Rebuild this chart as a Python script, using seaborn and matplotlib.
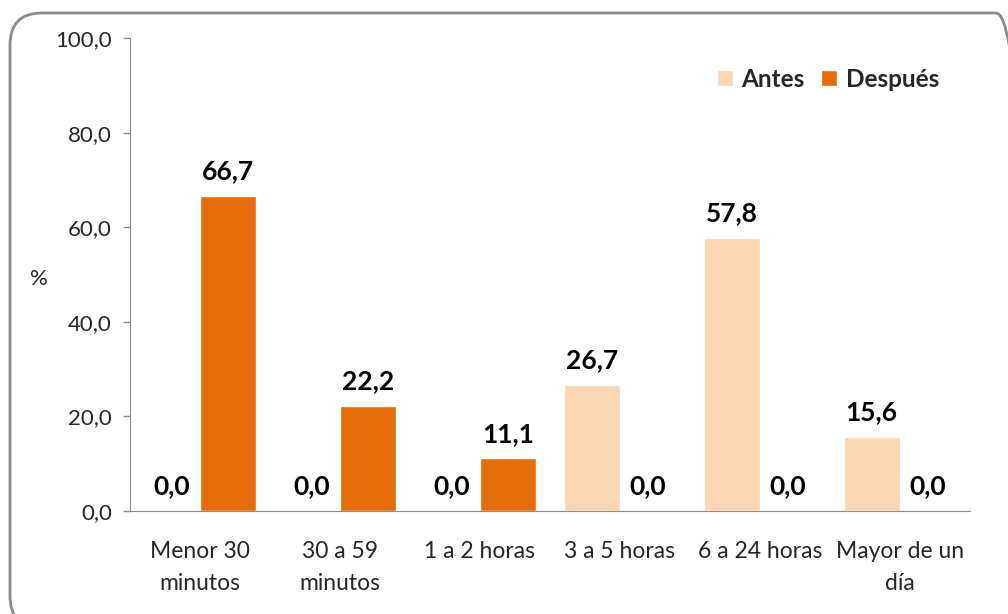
import seaborn as sns
import pandas as pd
import matplotlib.pyplot as plt
from matplotlib.patches import FancyBboxPatch

categorias = ['Menor 30\nminutos', '30 a 59\nminutos', '1 a 2 horas',
              '3 a 5 horas', '6 a 24 horas', 'Mayor de un\ndía']
antes = [0.0, 0.0, 0.0, 26.7, 57.8, 15.6]
despues = [66.7, 22.2, 11.1, 0.0, 0.0, 0.0]
y_ticks = [0, 20, 40, 60, 80, 100]

df = pd.DataFrame({
    'categoria': categorias * 2,
    'valor': antes + despues,
    'periodo': ['Antes'] * len(categorias) + ['Después'] * len(categorias),
})

sns.set_style('white')
plt.rcParams['font.family'] = ['Lato', 'DejaVu Sans']

fig = plt.figure(figsize=(10.08, 6.14), dpi=100)
ax = fig.add_axes([0.129, 0.168, 0.833, 0.770])

# marco redondeado estilo Excel (en pixeles)
marco = FancyBboxPatch((10, -14), 1018, 615, boxstyle='round,pad=0,rounding_size=32',
                       transform=None, facecolor='none', edgecolor='#8c8c8c',
                       linewidth=2, clip_on=False)
fig.patches.append(marco)

sns.barplot(data=df, x='categoria', y='valor', hue='periodo',
            palette={'Antes': '#FCD5B5', 'Después': '#E46C0A'},
            width=0.8, saturation=1, ax=ax)

for cont in ax.containers:
    ax.bar_label(cont, labels=[f'{v:.1f}'.replace('.', ',') for v in cont.datavalues],
                 padding=9, fontsize=19, fontweight='bold', color='black')

ax.set_ylim(0, 100)
ax.set_yticks(y_ticks)
ax.set_yticklabels([f'{v:.1f}'.replace('.', ',') for v in y_ticks])
ax.set_xlim(-0.5, len(categorias) - 0.5)
ax.set_xlabel('')
ax.set_ylabel('%', rotation=0, fontsize=16, va='center', ha='center')
ax.yaxis.set_label_coords(-0.108, 0.49)
ax.tick_params(axis='y', length=5, width=1, color='#8c8c8c', labelsize=16, left=True, pad=8)
ax.tick_params(axis='x', length=0, labelsize=16.5, pad=22)
for lbl in ax.get_xticklabels():
    lbl.set_linespacing(1.6)
for s in ['top', 'right']:
    ax.spines[s].set_visible(False)
for s in ['left', 'bottom']:
    ax.spines[s].set_color('#8c8c8c')

leg = ax.legend(loc='upper right', bbox_to_anchor=(0.975, 0.958), ncol=2, frameon=False,
                handlelength=0.65, handleheight=0.65, handletextpad=0.35, columnspacing=0.7,
                borderaxespad=0, prop={'size': 17.5, 'weight': 'bold'})

plt.savefig('out.png', dpi=100)
